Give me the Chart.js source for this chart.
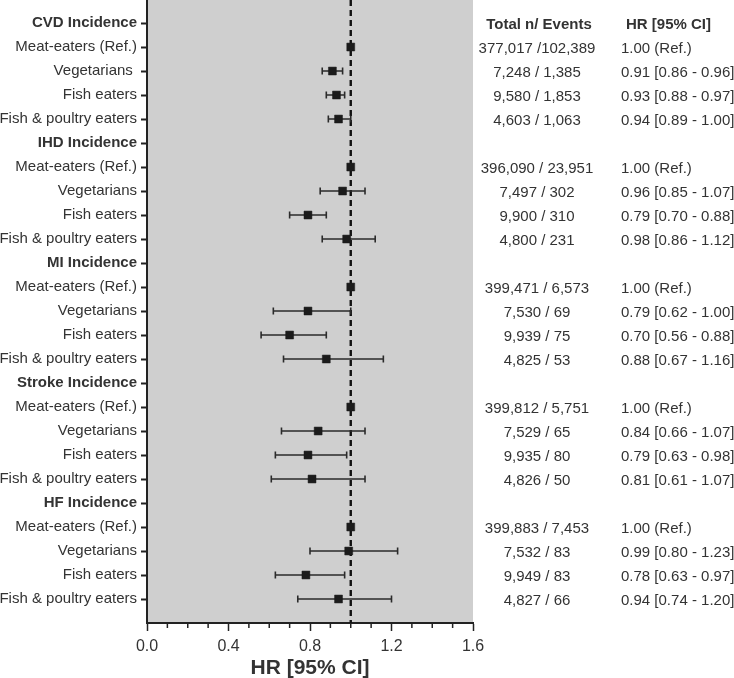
<!DOCTYPE html>
<html>
<head>
<meta charset="utf-8">
<title>HR forest plot</title>
<script src="https://cdn.jsdelivr.net/npm/chart.js@4.4.1/dist/chart.umd.min.js"></script>
<style>
    body{ margin:0; background:#fff; }
    canvas{ display:block; }
</style>
</head>
<body>
<canvas id="forest" width="734" height="678"></canvas>
<script>
/* =========================
   DATA
========================= */

const rowLabels = [
    "CVD Incidence", "Meat-eaters (Ref.)", "Vegetarians ", "Fish eaters", "Fish & poultry eaters",
    "IHD Incidence", "Meat-eaters (Ref.)", "Vegetarians", "Fish eaters", "Fish & poultry eaters",
    "MI Incidence", "Meat-eaters (Ref.)", "Vegetarians", "Fish eaters", "Fish & poultry eaters",
    "Stroke Incidence", "Meat-eaters (Ref.)", "Vegetarians", "Fish eaters", "Fish & poultry eaters",
    "HF Incidence", "Meat-eaters (Ref.)", "Vegetarians", "Fish eaters", "Fish & poultry eaters"
];

const hr = [
    null, 1.00, 0.91, 0.93, 0.94,
    null, 1.00, 0.96, 0.79, 0.98,
    null, 1.00, 0.79, 0.70, 0.88,
    null, 1.00, 0.84, 0.79, 0.81,
    null, 1.00, 0.99, 0.78, 0.94
];

const ciLow = [
    null, null, 0.86, 0.88, 0.89,
    null, null, 0.85, 0.70, 0.86,
    null, null, 0.62, 0.56, 0.67,
    null, null, 0.66, 0.63, 0.61,
    null, null, 0.80, 0.63, 0.74
];

const ciHigh = [
    null, null, 0.96, 0.97, 1.00,
    null, null, 1.07, 0.88, 1.12,
    null, null, 1.00, 0.88, 1.16,
    null, null, 1.07, 0.98, 1.07,
    null, null, 1.23, 0.97, 1.20
];

const nEvents = [
    "", "377,017 /102,389", "7,248 / 1,385", "9,580 / 1,853", "4,603 / 1,063",
    "", "396,090 / 23,951", "7,497 / 302", "9,900 / 310", "4,800 / 231",
    "", "399,471 / 6,573", "7,530 / 69", "9,939 / 75", "4,825 / 53",
    "", "399,812 / 5,751", "7,529 / 65", "9,935 / 80", "4,826 / 50",
    "", "399,883 / 7,453", "7,532 / 83", "9,949 / 83", "4,827 / 66"
];

const hrText = [
    "", "1.00 (Ref.)", "0.91 [0.86 - 0.96]", "0.93 [0.88 - 0.97]", "0.94 [0.89 - 1.00]",
    "", "1.00 (Ref.)", "0.96 [0.85 - 1.07]", "0.79 [0.70 - 0.88]", "0.98 [0.86 - 1.12]",
    "", "1.00 (Ref.)", "0.79 [0.62 - 1.00]", "0.70 [0.56 - 0.88]", "0.88 [0.67 - 1.16]",
    "", "1.00 (Ref.)", "0.84 [0.66 - 1.07]", "0.79 [0.63 - 0.98]", "0.81 [0.61 - 1.07]",
    "", "1.00 (Ref.)", "0.99 [0.80 - 1.23]", "0.78 [0.63 - 0.97]", "0.94 [0.74 - 1.20]"
];

const columnHeaders = ["Total n/ Events", "HR [95% CI]"];
const xTickLabels = ["0.0", "0.4", "0.8", "1.2", "1.6"];
const refValue = 1.0;

/* =========================
   HELPERS
========================= */

const FONT = "'Liberation Sans', Arial, sans-serif";
const TEXT = "#333";

function isHeader(i){
    return /Incidence$/.test(rowLabels[i] || "");
}

function majorLabel(v){
    const lbl = v.toFixed(1);
    return xTickLabels.includes(lbl) ? lbl : "";
}

/* =========================
   PLUGINS
========================= */

const panelBg = {
    id:"panelBg",
    beforeDraw(chart){
        const {ctx, chartArea:a} = chart;
        ctx.save();
        ctx.fillStyle = "#cfcfcf";
        ctx.fillRect(a.left, a.top, a.right - a.left, a.bottom - a.top);
        ctx.restore();
    }
};

const whiskers = {
    id:"whiskers",
    beforeDatasetsDraw(chart){
        const {ctx, chartArea:a} = chart;
        const xs = chart.scales.x, ys = chart.scales.y;
        ctx.save();

        // reference line at HR = 1
        const rx = xs.getPixelForValue(refValue);
        ctx.strokeStyle = "#111";
        ctx.lineWidth = 2.4;
        ctx.setLineDash([6,4]);
        ctx.beginPath();
        ctx.moveTo(rx, a.top);
        ctx.lineTo(rx, a.bottom);
        ctx.stroke();
        ctx.setLineDash([]);

        // confidence intervals
        ctx.strokeStyle = "#2b2b2b";
        ctx.lineWidth = 1.6;
        ciLow.forEach((lo, i)=>{
            if(lo == null) return;
            const y = ys.getPixelForValue(i);
            const x1 = xs.getPixelForValue(lo);
            const x2 = xs.getPixelForValue(ciHigh[i]);
            ctx.beginPath();
            ctx.moveTo(x1, y); ctx.lineTo(x2, y);
            ctx.moveTo(x1, y - 3.5); ctx.lineTo(x1, y + 3.5);
            ctx.moveTo(x2, y - 3.5); ctx.lineTo(x2, y + 3.5);
            ctx.stroke();
        });
        ctx.restore();
    },
    afterDraw(chart){
        // short minor ticks on the x axis
        const {ctx} = chart;
        const xs = chart.scales.x;
        ctx.save();
        ctx.strokeStyle = "#222";
        ctx.lineWidth = 1.5;
        xs.ticks.forEach(t=>{
            if(majorLabel(t.value)) return;
            const x = xs.getPixelForValue(t.value);
            ctx.beginPath();
            ctx.moveTo(x, xs.top);
            ctx.lineTo(x, xs.top + 5);
            ctx.stroke();
        });
        ctx.restore();
    }
};

const sideTable = {
    id:"sideTable",
    afterDraw(chart){
        const {ctx} = chart;
        const ys = chart.scales.y;
        ctx.save();
        ctx.fillStyle = TEXT;
        ctx.textBaseline = "middle";

        const y0 = ys.getPixelForValue(0) + 2;
        ctx.font = "bold 15px " + FONT;
        ctx.textAlign = "center";
        ctx.fillText(columnHeaders[0], 539, y0);
        ctx.textAlign = "left";
        ctx.fillText(columnHeaders[1], 626, y0);

        ctx.font = "15px " + FONT;
        rowLabels.forEach((_, i)=>{
            const y = ys.getPixelForValue(i) + 1.5;
            ctx.textAlign = "center";
            ctx.fillText(nEvents[i], 537, y);
            ctx.textAlign = "left";
            ctx.fillText(hrText[i], 621, y);
        });
        ctx.restore();
    }
};

/* =========================
   CHART
========================= */

const points = hr
    .map((v, i)=> v == null ? null : {x:v, y:i})
    .filter(Boolean);

new Chart(document.getElementById("forest"),{
    type:"scatter",
    data:{
        datasets:[{
            label:"HR",
            data:points,
            pointStyle:"rect",
            pointRadius:5.6,
            pointBorderWidth:0.5,
            backgroundColor:"#1b1b1b",
            borderColor:"#1b1b1b"
        }]
    },
    options:{
        responsive:false,
        animation:false,
        layout:{ autoPadding:false, padding:{ left:0, right:261, top:0, bottom:0 } },
        plugins:{
            legend:{ display:false },
            tooltip:{ enabled:false }
        },
        scales:{
            x:{
                type:"linear",
                min:0, max:1.6,
                border:{ display:true, color:"#222", width:2 },
                grid:{
                    drawOnChartArea:false,
                    tickLength:8,
                    tickWidth:1.5,
                    tickColor:ctx=> majorLabel(ctx.tick.value) ? "#222" : "rgba(0,0,0,0)"
                },
                ticks:{
                    stepSize:0.1,
                    autoSkip:false,
                    maxRotation:0,
                    padding:6,
                    color:TEXT,
                    font:{ family:FONT, size:16 },
                    callback:v=> majorLabel(v)
                },
                title:{
                    display:true,
                    text:"HR [95% CI]",
                    color:TEXT,
                    font:{ family:FONT, size:21, weight:"bold" },
                    padding:{ top:0, bottom:-3 }
                },
                afterFit(scale){
                    scale.height = 55;
                    scale.paddingLeft = 0;
                    scale.paddingRight = 0;
                }
            },
            y:{
                type:"linear",
                reverse:true,
                min:-0.96, max:25,
                border:{ display:true, color:"#222", width:2 },
                grid:{
                    drawOnChartArea:false,
                    tickLength:6,
                    tickWidth:2,
                    tickColor:"#222"
                },
                afterBuildTicks(scale){
                    scale.ticks = rowLabels.map((_, i)=>({ value:i }));
                },
                ticks:{
                    autoSkip:false,
                    padding:4,
                    color:TEXT,
                    font:ctx=>({
                        family:FONT,
                        size:15,
                        weight: ctx.tick && isHeader(ctx.tick.value) ? "bold" : "normal"
                    }),
                    callback:v=> rowLabels[v]
                },
                afterFit(scale){
                    // rows do not sit on the panel edges, so no label overhang is needed
                    scale.width = 147;
                    scale.paddingTop = 0;
                    scale.paddingBottom = 0;
                    if(scale._margins) scale._margins.top = 0;
                }
            }
        }
    },
    plugins:[panelBg, whiskers, sideTable]
});
</script>
</body>
</html>
